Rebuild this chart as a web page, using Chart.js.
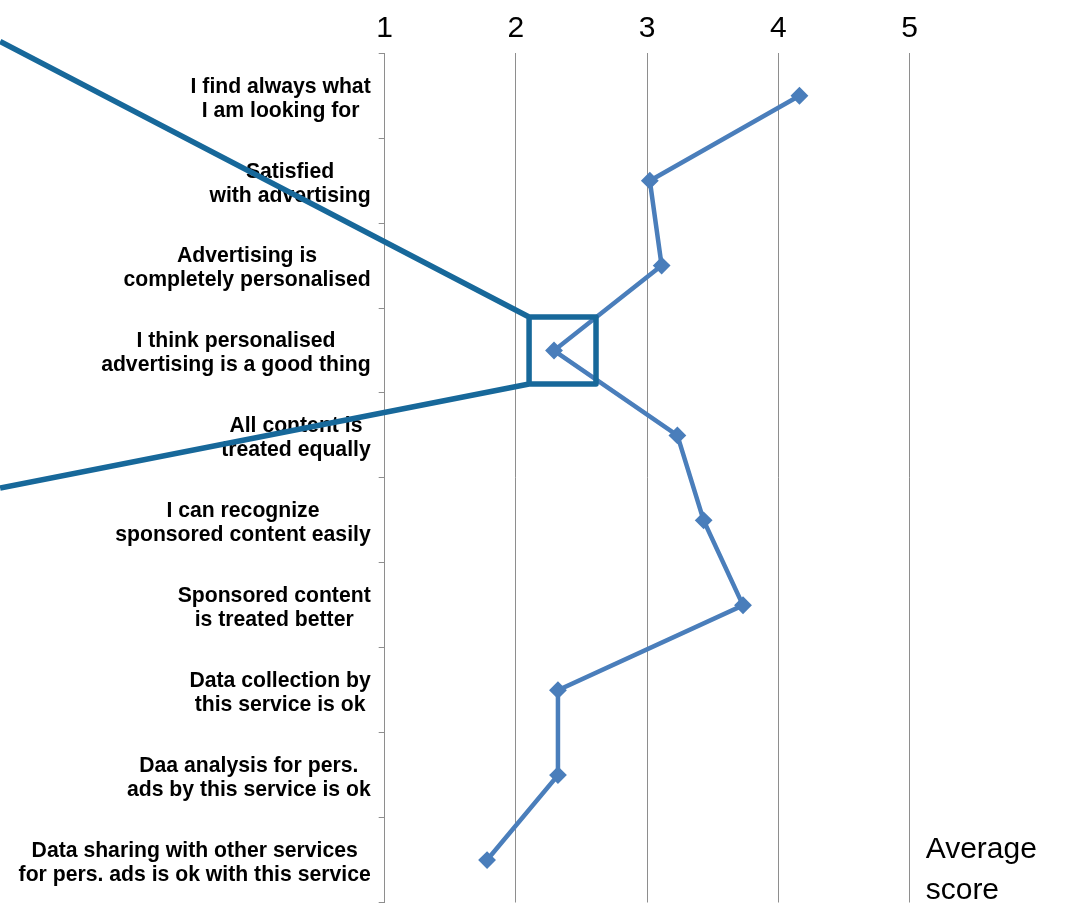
<!DOCTYPE html>
<html>
<head>
<meta charset="utf-8">
<title>Average score</title>
<script src="https://cdn.jsdelivr.net/npm/chart.js@4.4.1/dist/chart.umd.min.js"></script>
<style>
  html, body { margin: 0; padding: 0; background: #fff; overflow: hidden; }
  #wrap { position: relative; width: 1082px; height: 912px; }
</style>
</head>
<body>
<div id="wrap"><canvas id="scoreChart"></canvas></div>
<script>
// Statements, top to bottom
const questions = [
  ["I find always what", "I am looking for"],
  ["Satisfied", "with advertising"],
  ["Advertising is", "completely personalised"],
  ["I think personalised", "advertising is a good thing"],
  ["All content is", "treated equally"],
  ["I can recognize", "sponsored content easily"],
  ["Sponsored content", "is treated better"],
  ["Data collection by", "this service is ok"],
  ["Daa analysis for pers.", "ads by this service is ok"],
  ["Data sharing with other services", "for pers. ads is ok with this service"]
];
const averageScores = [4.16, 3.02, 3.11, 2.29, 3.23, 3.43, 3.73, 2.32, 2.32, 1.78];
const scoreTicks = [1, 2, 3, 4, 5];
const axisTitle = ["Average", "score"];

// box around one statement, in data units, plus where its leader lines go
const highlight = { index: 3, xMin: 2.1, xMax: 2.61, half: 0.395 };
const leaderTails = [{ x: -1.93, y: -0.64 }, { x: -1.93, y: 4.62 }];

const FONT = '"Liberation Sans", Arial, Helvetica, sans-serif';
const GRID = '#8e8e8e';
const LINE_BLUE = '#4a7ebb';
const CALLOUT = '#17689a';

// Draws category labels, the axis title and the callout on top of the chart
const overlayPlugin = {
  id: 'overlay',
  afterDraw(chart) {
    const { ctx, chartArea, scales: { x, y } } = chart;
    ctx.save();

    // labels: each line centred inside its block, blocks aligned right
    ctx.font = 'bold 21.2px ' + FONT;
    ctx.fillStyle = '#000';
    ctx.textAlign = 'center';
    ctx.textBaseline = 'middle';
    const right = chartArea.left - 14;
    const lh = 24;
    questions.forEach((lines, i) => {
      const cy = y.getPixelForValue(i) + 3;
      const w = Math.max(...lines.map(l => ctx.measureText(l).width));
      lines.forEach((line, k) => {
        ctx.fillText(line, right - w / 2, cy + (k - (lines.length - 1) / 2) * lh);
      });
    });

    // value axis title, lower right
    ctx.font = '30px ' + FONT;
    ctx.textAlign = 'left';
    ctx.textBaseline = 'alphabetic';
    ctx.fillText(axisTitle[0], chartArea.right + 16, chartArea.bottom - 45);
    ctx.fillText(axisTitle[1], chartArea.right + 16, chartArea.bottom - 4);

    // callout box and leader lines
    const left = x.getPixelForValue(highlight.xMin);
    const boxRight = x.getPixelForValue(highlight.xMax);
    const top = y.getPixelForValue(highlight.index - highlight.half);
    const bottom = y.getPixelForValue(highlight.index + highlight.half);
    ctx.strokeStyle = CALLOUT;
    ctx.lineWidth = 5.5;
    ctx.lineJoin = 'round';
    ctx.beginPath();
    ctx.moveTo(x.getPixelForValue(leaderTails[0].x), y.getPixelForValue(leaderTails[0].y));
    ctx.lineTo(left, top);
    ctx.lineTo(boxRight, top);
    ctx.lineTo(boxRight, bottom);
    ctx.lineTo(left, bottom);
    ctx.lineTo(x.getPixelForValue(leaderTails[1].x), y.getPixelForValue(leaderTails[1].y));
    ctx.moveTo(left, bottom);
    ctx.lineTo(left, top);
    ctx.stroke();

    ctx.restore();
  }
};

new Chart(document.getElementById('scoreChart'), {
  type: 'line',
  data: {
    labels: questions,
    datasets: [{
      data: averageScores,
      borderColor: LINE_BLUE,
      backgroundColor: LINE_BLUE,
      borderWidth: 4.5,
      tension: 0,
      pointStyle: 'rectRot',
      pointRadius: 7.5,
      pointBorderWidth: 2,
      pointBackgroundColor: LINE_BLUE,
      pointBorderColor: LINE_BLUE,
      clip: false
    }]
  },
  options: {
    indexAxis: 'y',
    responsive: true,
    maintainAspectRatio: false,
    animation: false,
    layout: { padding: { left: 374.7, top: 0, right: 172.3, bottom: 3.7 } },
    plugins: { legend: { display: false }, tooltip: { enabled: false } },
    scales: {
      x: {
        type: 'linear',
        position: 'top',
        min: scoreTicks[0],
        max: scoreTicks[scoreTicks.length - 1],
        afterBuildTicks: s => { s.ticks = scoreTicks.map(v => ({ value: v })); },
        afterFit: s => { s.height = 53.3; },
        grid: { color: GRID, lineWidth: 1, drawTicks: false },
        border: { display: false },
        ticks: { color: '#000', padding: 6.7, font: { family: FONT, size: 30 } }
      },
      y: {
        type: 'category',
        position: 'left',
        offset: true,
        afterFit: s => { s.width = 10; },
        grid: { offset: true, drawOnChartArea: false, drawTicks: true, tickLength: 6, color: GRID },
        border: { display: true, color: GRID, width: 1 },
        ticks: { display: false }
      }
    }
  },
  plugins: [overlayPlugin]
});
</script>
</body>
</html>
